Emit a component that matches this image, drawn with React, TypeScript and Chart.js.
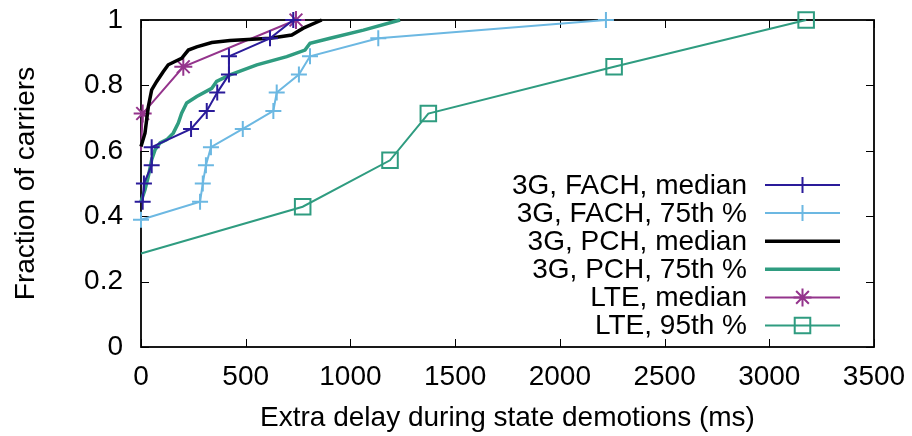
import React, { useEffect, useRef } from 'react';
import { Chart, registerables } from 'chart.js';

Chart.register(...registerables);

const seriesLabels = [
  '3G, FACH, median',
  '3G, FACH, 75th %',
  '3G, PCH, median',
  '3G, PCH, 75th %',
  'LTE, median',
  'LTE, 95th %',
];

const fachMedianX = [8, 14, 51, 51, 239, 314, 364, 420, 420, 616, 727];
const fachMedianY = [0.444, 0.5, 0.556, 0.611, 0.667, 0.722, 0.778, 0.833, 0.889, 0.944, 1.0];

const fach75X = [0, 282, 295, 310, 334, 486, 632, 648, 754, 807, 1133, 2220];
const fach75Y = [0.389, 0.444, 0.5, 0.556, 0.611, 0.667, 0.722, 0.778, 0.833, 0.889, 0.944, 1.0];

const pchMedianX = [0, 19, 27, 35, 51, 75, 106, 130, 162, 194, 226, 266, 338, 425, 616, 720, 775, 863];
const pchMedianY = [0.613, 0.654, 0.695, 0.735, 0.786, 0.812, 0.842, 0.863, 0.873, 0.883, 0.908, 0.918, 0.931, 0.937, 0.944, 0.954, 0.975, 1.0];

const pch75X = [0, 19, 35, 51, 67, 91, 123, 154, 178, 194, 218, 266, 338, 361, 425, 553, 696, 783, 807, 903, 1062, 1237];
const pch75Y = [0.445, 0.481, 0.522, 0.573, 0.603, 0.624, 0.634, 0.654, 0.685, 0.715, 0.746, 0.766, 0.791, 0.812, 0.832, 0.863, 0.888, 0.908, 0.929, 0.944, 0.969, 1.0];

const lteMedianX = [0, 8, 202, 740];
const lteMedianY = [0.6, 0.714, 0.857, 1.0];

const lte95X = [0, 772, 1189, 1372, 2259, 3176];
const lte95Y = [0.286, 0.429, 0.571, 0.714, 0.857, 1.0];

const xTickValues = [0, 500, 1000, 1500, 2000, 2500, 3000, 3500];
const xTickLabels = ['0', '500', '1000', '1500', '2000', '2500', '3000', '3500'];
const yTickValues = [0, 0.2, 0.4, 0.6, 0.8, 1];
const yTickLabels = ['0', '0.2', '0.4', '0.6', '0.8', '1'];

const colors = ['#2a1b9a', '#6cb8e2', '#000000', '#2f9c80', '#94348c', '#2f9c80'];

const FONT = '"Liberation Sans", Arial, Helvetica, sans-serif';

const zip = (xs: number[], ys: number[]) => xs.map((x, i) => ({ x, y: ys[i] }));

const borderPlugin = {
  id: 'gnuBorder',
  beforeDatasetsDraw(chart: any) {
    const { ctx, chartArea: a, scales } = chart;
    ctx.save();
    ctx.strokeStyle = '#000';
    ctx.lineWidth = 1;
    const L = 8;
    ctx.beginPath();
    for (const v of xTickValues) {
      const px = Math.round(scales.x.getPixelForValue(v)) + 0.5;
      ctx.moveTo(px, a.bottom);
      ctx.lineTo(px, a.bottom - L);
      ctx.moveTo(px, a.top);
      ctx.lineTo(px, a.top + L);
    }
    for (const v of yTickValues) {
      const py = Math.round(scales.y.getPixelForValue(v)) + 0.5;
      ctx.moveTo(a.left, py);
      ctx.lineTo(a.left + L, py);
      ctx.moveTo(a.right, py);
      ctx.lineTo(a.right - L, py);
    }
    ctx.stroke();
    ctx.lineWidth = 1.8;
    ctx.strokeRect(a.left, a.top, a.right - a.left, a.bottom - a.top);
    ctx.restore();
  },
};

function drawMarker(ctx: CanvasRenderingContext2D, style: string, x: number, y: number, r: number) {
  ctx.beginPath();
  if (style === 'cross') {
    ctx.moveTo(x - r, y);
    ctx.lineTo(x + r, y);
    ctx.moveTo(x, y - r);
    ctx.lineTo(x, y + r);
  } else if (style === 'star') {
    ctx.moveTo(x - r, y);
    ctx.lineTo(x + r, y);
    ctx.moveTo(x, y - r);
    ctx.lineTo(x, y + r);
    const d = r * 0.7071;
    ctx.moveTo(x - d, y - d);
    ctx.lineTo(x + d, y + d);
    ctx.moveTo(x - d, y + d);
    ctx.lineTo(x + d, y - d);
  } else if (style === 'rect') {
    const s = r * 0.7071;
    ctx.rect(x - s, y - s, 2 * s, 2 * s);
  }
  ctx.stroke();
}

const legendPlugin = {
  id: 'gnuLegend',
  afterDatasetsDraw(chart: any) {
    const { ctx } = chart;
    const textRight = 747;
    const lineLeft = 765;
    const lineRight = 840;
    const top = 185;
    const step = 28.1;
    ctx.save();
    ctx.font = `28px ${FONT}`;
    ctx.textAlign = 'right';
    ctx.textBaseline = 'middle';
    chart.data.datasets.forEach((ds: any, i: number) => {
      const y = top + i * step;
      ctx.fillStyle = '#000';
      ctx.fillText(ds.label, textRight, y + 1);
      ctx.strokeStyle = ds.borderColor;
      ctx.lineWidth = ds.borderWidth;
      ctx.beginPath();
      ctx.moveTo(lineLeft, y);
      ctx.lineTo(lineRight, y);
      ctx.stroke();
      if (ds.legendMarker) {
        ctx.lineWidth = ds.pointBorderWidth;
        drawMarker(ctx, ds.legendMarker, (lineLeft + lineRight) / 2, y, ds.legendRadius);
      }
    });
    ctx.restore();
  },
};

export default function App() {
  const ref = useRef<HTMLCanvasElement | null>(null);

  useEffect(() => {
    if (!ref.current) return;
    Chart.defaults.font.family = FONT;
    Chart.defaults.font.size = 28;
    Chart.defaults.color = '#000';

    const mk = (i: number, xs: number[], ys: number[], width: number, style: string | false, radius: number, hiddenFirst = false) => ({
      label: seriesLabels[i],
      data: zip(xs, ys),
      borderColor: colors[i],
      backgroundColor: colors[i],
      borderWidth: width,
      tension: 0,
      fill: false,
      showLine: true,
      pointStyle: style || 'circle',
      pointRadius: style ? xs.map((_, k) => (hiddenFirst && k === 0 ? 0 : radius)) : 0,
      pointBorderWidth: 2,
      pointBorderColor: colors[i],
      pointBackgroundColor: 'rgba(0,0,0,0)',
      clip: false,
      legendMarker: style,
      legendRadius: style === 'rect' ? 11 : radius,
    });

    const chart = new Chart(ref.current, {
      type: 'scatter',
      data: {
        datasets: [
          mk(0, fachMedianX, fachMedianY, 2, 'cross', 8),
          mk(1, fach75X, fach75Y, 2, 'cross', 8),
          mk(2, pchMedianX, pchMedianY, 3.5, false, 0),
          mk(3, pch75X, pch75Y, 3.5, false, 0),
          mk(4, lteMedianX, lteMedianY, 2, 'star', 9, true),
          mk(5, lte95X, lte95Y, 2, 'rect', 11, true),
        ] as any,
      },
      options: {
        responsive: false,
        animation: false,
        events: [],
        layout: { padding: { top: 20, right: 38, bottom: 0, left: 0 } },
        plugins: { legend: { display: false }, tooltip: { enabled: false } },
        scales: {
          x: {
            type: 'linear',
            min: 0,
            max: 3500,
            grid: { display: false, drawTicks: false },
            border: { display: false },
            afterBuildTicks: (s: any) => {
              s.ticks = xTickValues.map((v) => ({ value: v }));
            },
            afterFit: (s: any) => {
              s.height = 89;
              s.paddingLeft = 0;
              s.paddingRight = 0;
            },
            ticks: {
              padding: 13,
              maxRotation: 0,
              autoSkip: false,
              font: { size: 28 },
              callback: (_v: any, idx: number) => xTickLabels[idx],
            },
            title: {
              display: true,
              text: 'Extra delay during state demotions (ms)',
              font: { size: 28 },
              padding: { top: 0, bottom: 1 },
            },
          },
          y: {
            type: 'linear',
            min: 0,
            max: 1,
            grid: { display: false, drawTicks: false },
            border: { display: false },
            afterBuildTicks: (s: any) => {
              s.ticks = yTickValues.map((v) => ({ value: v }));
            },
            afterFit: (s: any) => {
              s.width = 141;
              s.paddingTop = 0;
              s.paddingBottom = 0;
            },
            ticks: {
              padding: 18,
              autoSkip: false,
              font: { size: 28 },
              callback: (_v: any, idx: number) => yTickLabels[idx],
            },
            title: {
              display: true,
              text: 'Fraction of carriers',
              font: { size: 28 },
              padding: { top: 9, bottom: 0 },
            },
          },
        },
      },
      plugins: [borderPlugin, legendPlugin],
    } as any);

    return () => chart.destroy();
  }, []);

  return (
    <div style={{ position: 'absolute', left: 0, top: 0, width: 912, height: 436, background: '#fff' }}>
      <canvas ref={ref} width={912} height={436} style={{ display: 'block', width: 912, height: 436 }} />
    </div>
  );
}
